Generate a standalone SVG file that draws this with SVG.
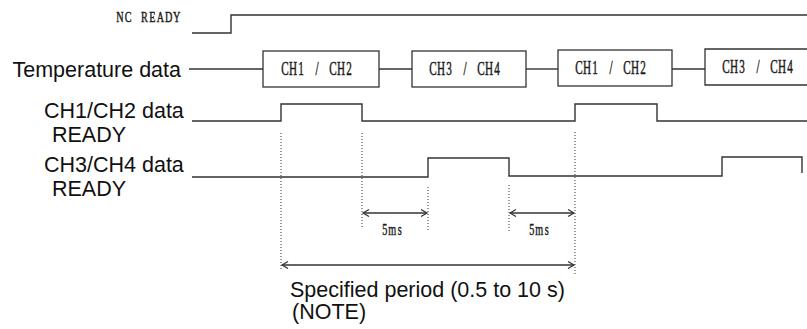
<svg xmlns="http://www.w3.org/2000/svg" width="807" height="329" viewBox="0 0 807 329">
<style>
.lbl{font-family:"Liberation Sans",Arial,sans-serif;font-size:21.5px;fill:#111}
.mono{font-family:"Liberation Serif","Times New Roman",serif;fill:#1a1a1a;stroke:#1a1a1a;stroke-width:0.45;text-anchor:middle}
.wave{fill:none;stroke:#333;stroke-width:1.4}
.box{fill:#fff;stroke:#333;stroke-width:1.3}
.dot{fill:none;stroke:#555;stroke-width:1.2;stroke-dasharray:1 2}
.arr{fill:none;stroke:#333;stroke-width:1.3;marker-start:url(#ah);marker-end:url(#ah)}
</style>
<defs>
<marker id="ah" markerUnits="userSpaceOnUse" markerWidth="10" markerHeight="10" refX="7" refY="4" orient="auto-start-reverse">
<path d="M1,0.5 L7,4 L1,7.5" fill="none" stroke="#333" stroke-width="1.2"/>
</marker>
</defs>
<rect width="807" height="329" fill="#fff"/>

<g id="nc-ready">
<text class="mono" font-size="15" transform="translate(116,22) scale(0.68,1)" x="5.96 17.87 29.78 41.69 53.6 65.5 77.4 89.3" y="0">NC READY</text>
<polyline class="wave" points="192,33 231,33 231,15 807,15"/>
</g>

<g id="temperature-data">
<text class="lbl" x="181" y="77" text-anchor="end">Temperature data</text>
<polyline class="wave" points="189,69 263,69"/>
<polyline class="wave" points="379,69 412,69"/>
<polyline class="wave" points="526,69 558,69"/>
<polyline class="wave" points="672,69 705,69"/>
</g>

<g id="box-ch12-a">
<rect class="box" x="263" y="51" width="116" height="36"/>
<text class="mono" font-size="18" transform="translate(281,75) scale(0.62,1)" x="6.45 19.35 32.26 45.16 58.06 70.97 83.87 96.77 109.68" y="0">CH1 / CH2</text>
</g>
<g id="box-ch34-a">
<rect class="box" x="412" y="51" width="114" height="36"/>
<text class="mono" font-size="18" transform="translate(429,75) scale(0.62,1)" x="6.45 19.35 32.26 45.16 58.06 70.97 83.87 96.77 109.68" y="0">CH3 / CH4</text>
</g>
<g id="box-ch12-b">
<rect class="box" x="558" y="50" width="114" height="36"/>
<text class="mono" font-size="18" transform="translate(575,74) scale(0.62,1)" x="6.45 19.35 32.26 45.16 58.06 70.97 83.87 96.77 109.68" y="0">CH1 / CH2</text>
</g>
<g id="box-ch34-b">
<polyline class="box" points="807,49 705,49 705,85 807,85"/>
<text class="mono" font-size="18" transform="translate(722,73) scale(0.62,1)" x="6.45 19.35 32.26 45.16 58.06 70.97 83.87 96.77 109.68" y="0">CH3 / CH4</text>
</g>

<g id="ch12-ready">
<text class="lbl" x="44" y="118">CH1/CH2 data</text>
<text class="lbl" x="52" y="142">READY</text>
<polyline class="wave" points="192,121 281,121 281,104 362,104 362,121 575,121 575,104 657,104 657,121 807,121"/>
</g>

<g id="ch34-ready">
<text class="lbl" x="44" y="172">CH3/CH4 data</text>
<text class="lbl" x="52" y="196">READY</text>
<polyline class="wave" points="192,177 428,177 428,158 509,158 509,176 722,176 722,157 802,157 802,173"/>
</g>

<g id="connectors">
<line class="dot" x1="281" y1="133" x2="281" y2="270"/>
<line class="dot" x1="362" y1="133" x2="362" y2="228"/>
<line class="dot" x1="428" y1="187" x2="428" y2="231"/>
<line class="dot" x1="509" y1="185" x2="509" y2="231"/>
<line class="dot" x1="575" y1="132" x2="575" y2="276"/>
<line class="arr" x1="363" y1="213" x2="427" y2="213"/>
<line class="arr" x1="510" y1="213" x2="574" y2="213"/>
<line class="arr" x1="282" y1="265" x2="574" y2="265"/>
</g>

<g id="labels">
<text class="mono" font-size="17" transform="translate(381,235) scale(0.6,1)" x="6.2 18.7 31.2" y="0">5ms</text>
<text class="mono" font-size="17" transform="translate(528,235) scale(0.6,1)" x="6.2 18.7 31.2" y="0">5ms</text>
<text class="lbl" x="290" y="297">Specified period (0.5 to 10 s)</text>
<text class="lbl" x="292" y="319">(NOTE)</text>
</g>
</svg>
